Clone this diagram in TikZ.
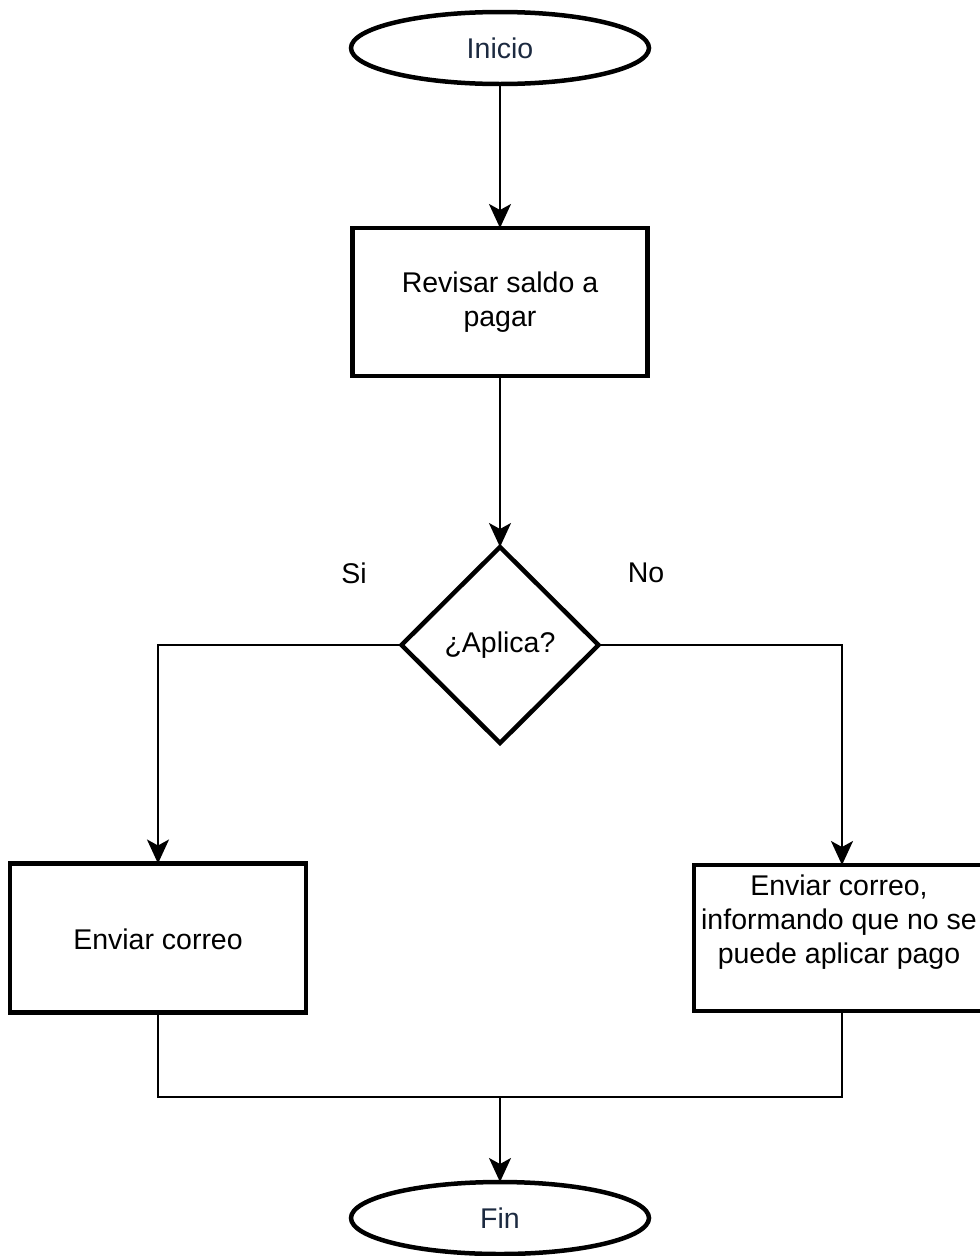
\documentclass[tikz,border=0pt]{standalone}
\usepackage{fontspec}
\setmainfont{Liberation Sans}
\usetikzlibrary{shapes.geometric,arrows.meta}
\definecolor{navy}{HTML}{1C2A40}
\tikzset{
  shapeline/.style={draw=black,line width=4.5pt,outer sep=0pt,inner sep=0pt,fill=white},
  term/.style={shapeline,ellipse,minimum width=298pt,minimum height=72pt,text=navy},
  procbox/.style={shapeline,rectangle,align=center},
  decision/.style={shapeline,diamond,minimum width=197pt,minimum height=196pt},
  conn/.style={draw=black,line width=2pt},
  arr/.style={conn,-{Stealth[length=24pt,width=22pt,inset=6pt]}},
  lbl/.style={inner sep=0pt}
}
\begin{document}
\begin{tikzpicture}[x=1pt,y=-1pt,font=\fontsize{28.5}{34}\selectfont]
\clip (0,0) rectangle (980,1256);
\fill[white] (0,0) rectangle (980,1256);

\node[term] (inicio) at (500,48) {Inicio};
\node[procbox,minimum width=295pt,minimum height=148pt] (revisar) at (500,302) {Revisar saldo a\\pagar};
\node[decision] (aplica) at (500,645) {¿Aplica?};
\node[procbox,minimum width=296pt,minimum height=149pt] (si) at (158,938) {};
\node[lbl] (sitext) at (158,939) {Enviar correo};
\node[procbox,minimum width=296pt,minimum height=146pt] (no) at (842,938) {};
\node[lbl,align=center] (notext) at (839,922) {Enviar correo,\\informando que no se\\puede aplicar pago};
\node[term] (fin) at (500,1218) {Fin};

\node[lbl] (lsi) at (354,573) {Si};
\node[lbl] (lno) at (646,573) {No};

\coordinate (join) at (500,1097);

\draw[arr] (inicio.south) -- (revisar.north);
\draw[arr] (revisar.south) -- (aplica.north);
\draw[arr] (aplica.west) -| (si.north);
\draw[arr] (aplica.east) -| (no.north);
\draw[conn] (si.south) |- (join) -| (no.south);
\draw[arr] (join) -- (fin.north);
\end{tikzpicture}
\end{document}
